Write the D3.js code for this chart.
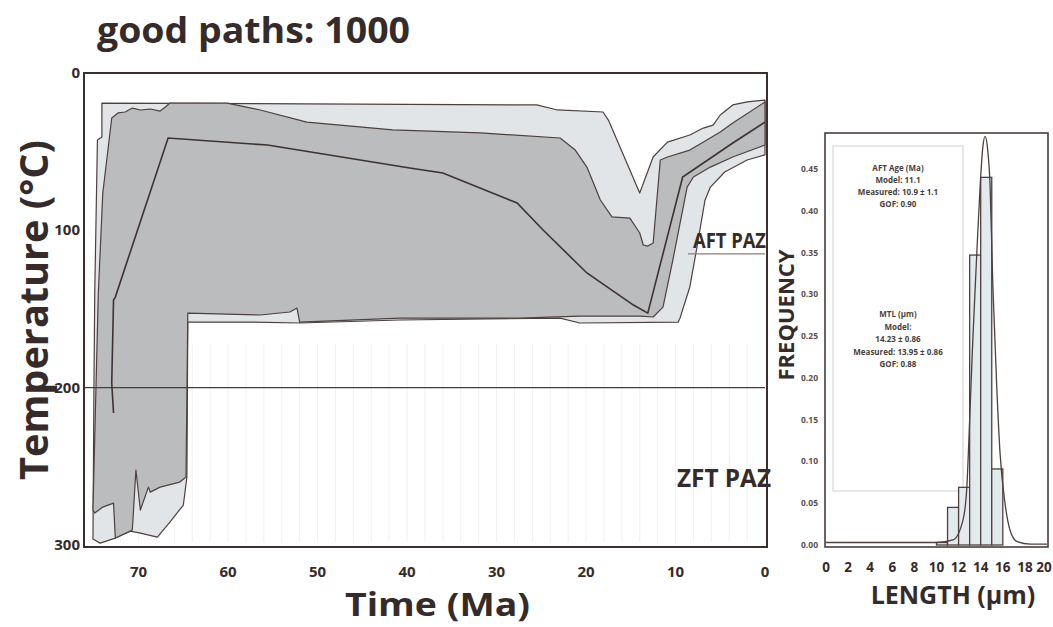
<!DOCTYPE html>
<html>
<head>
<meta charset="utf-8">
<script src="https://cdn.jsdelivr.net/npm/d3@7"></script>
<style>
  body { margin: 0; background: #fff; }
  text { font-family: "Open Sans", "DejaVu Sans", sans-serif; fill: #352b2a; }
</style>
</head>
<body>
<div id="chart"></div>
<script>
// thermal history (time in Ma, temperature in deg C)
var timeTicks = [70, 60, 50, 40, 30, 20, 10, 0];
var tempTicks = [0, 100, 200, 300];

var acceptEnvelope = [
  [74.1, 19.1], [25.5, 20.3], [23.2, 23.5], [18.1, 24.8], [17.5, 29.9], [14.0, 76.3],
  [12.5, 53.4], [10.9, 43.9], [8.4, 39.4], [6.9, 35.0], [5.8, 33.1], [5.0, 26.7],
  [3.6, 20.3], [2.0, 18.4], [0, 17.2], [0, 52.0], [2.0, 55.3], [4.5, 62.9],
  [6.1, 72.5], [6.7, 80.7], [7.6, 110.6], [8.4, 136.0], [9.5, 155.8], [9.7, 158.3],
  [20.7, 158.9], [22.9, 155.8], [40.8, 157.0], [52.0, 158.9], [57.5, 158.3], [64.5, 158.3],
  [64.6, 256.8], [65.0, 274.6], [66.5, 285.4], [67.9, 295.0], [69.8, 292.4], [70.9, 291.2],
  [72.6, 295.6], [74.3, 298.8], [75.1, 296.2], [75.0, 207.9], [74.9, 139.9], [74.6, 42.6],
  [74.1, 40.7]
];

var goodEnvelope = [
  [73.0, 28.6], [72.3, 25.4], [71.5, 24.8], [70.7, 22.3], [69.8, 23.5], [68.7, 22.9],
  [67.6, 24.2], [67.0, 21.6], [66.5, 19.1], [60.1, 19.1], [56.4, 23.5], [51.2, 31.2],
  [41.6, 36.2], [31.8, 38.1], [22.9, 41.3], [21.2, 49.0], [19.9, 59.8], [18.4, 80.7],
  [17.1, 91.5], [15.1, 92.2], [14.0, 101.7], [13.6, 109.3], [13.1, 110.0], [12.5, 108.1],
  [11.7, 55.3], [10.9, 53.4], [8.4, 49.0], [6.5, 42.6], [5.0, 37.5], [3.6, 31.8],
  [0, 18.4], [0, 45.8], [3.6, 53.4], [6.1, 59.8], [8.0, 66.1], [8.7, 72.5],
  [10.3, 118.9], [11.4, 148.8], [12.5, 155.1], [14.0, 154.5], [20.7, 154.5], [27.4, 155.8],
  [40.8, 155.8], [52.0, 158.3], [52.3, 149.4], [53.1, 151.9], [56.4, 153.8], [64.5, 152.6],
  [64.7, 256.8], [65.4, 260.0], [67.6, 263.2], [68.7, 266.4], [68.9, 263.2], [69.8, 277.8],
  [70.3, 252.4], [70.7, 290.5], [72.6, 295.6], [72.8, 273.4], [74.0, 275.9], [74.9, 279.7],
  [75.1, 277.8], [74.5, 139.9], [74.0, 76.3]
];

var bestPath = [
  [72.8, 216.1], [73.0, 197.1], [72.8, 144.3], [72.6, 142.4], [66.7, 41.3], [55.6, 45.8],
  [39.7, 60.4], [36.0, 63.6], [27.7, 82.6], [24.8, 99.8], [19.9, 127.1], [14.7, 147.5],
  [13.1, 152.6], [9.2, 66.1], [3.6, 44.5], [0, 31.2]
];

var zftLineTemp = 200;
var aftLine = [[8.6, 115], [0, 115]];

// track length histogram
var binStart = [10, 11, 12, 13, 14, 15];
var binFreq = [0.003, 0.045, 0.069, 0.347, 0.44, 0.091];
var lengthTicks = [0, 2, 4, 6, 8, 10, 12, 14, 16, 18, 20];
var freqTicks = [0, 0.05, 0.10, 0.15, 0.20, 0.25, 0.30, 0.35, 0.40, 0.45];
var modelCurve = [
  [0, 0.003], [5, 0.003], [10, 0.003], [11.5, 0.006], [12.4, 0.03], [12.75, 0.07],
  [13.0, 0.15], [13.3, 0.25], [13.65, 0.35], [13.95, 0.43], [14.2, 0.477], [14.4, 0.489],
  [14.6, 0.477], [14.85, 0.43], [15.1, 0.31], [15.45, 0.19], [15.75, 0.11], [16.2, 0.05],
  [16.65, 0.018], [17.3, 0.004], [18.5, 0.001], [20, 0.001]
];
var aftLines = ["AFT Age (Ma)", "Model: 11.1", "Measured: 10.9 \u00b1 1.1", "GOF: 0.90"];
var mtlLines = ["MTL (\u00b5m)", "Model:", "14.23 \u00b1 0.86", "Measured: 13.95 \u00b1 0.86", "GOF: 0.88"];

var W = 1053, H = 627;
var lineColor = "#4e403e";

var svg = d3.select("#chart").append("svg")
    .attr("width", W)
    .attr("height", H);

// ---------- left panel ----------
var x = d3.scaleLinear().domain([76.1, 0]).range([84, 765]);
var y = d3.scaleLinear().domain([0, 300]).range([73, 545]);

var left = svg.append("g").attr("class", "history");

// faint ghost gridlines from the original figure
left.selectAll("line.ghost")
    .data(d3.range(2, 76, 2))
    .enter().append("line")
    .attr("class", "ghost")
    .attr("x1", function (d) { return x(d); })
    .attr("x2", function (d) { return x(d); })
    .attr("y1", y(172))
    .attr("y2", y(298))
    .style("stroke", "#f0f0f0")
    .style("stroke-width", 1);

var area = d3.line()
    .x(function (d) { return x(d[0]); })
    .y(function (d) { return y(d[1]); });

left.append("path")
    .datum(acceptEnvelope)
    .attr("d", function (d) { return area(d) + "Z"; })
    .style("fill", "#e2e5e8")
    .style("stroke", lineColor)
    .style("stroke-width", 1.2)
    .style("stroke-linejoin", "round");

left.append("path")
    .datum(goodEnvelope)
    .attr("d", function (d) { return area(d) + "Z"; })
    .style("fill", "#babcbe")
    .style("stroke", lineColor)
    .style("stroke-width", 1.2)
    .style("stroke-linejoin", "round");

left.append("path")
    .datum(bestPath)
    .attr("d", area)
    .style("fill", "none")
    .style("stroke", "#3e3230")
    .style("stroke-width", 1.6);

// partial annealing zone markers
left.append("line")
    .attr("x1", x(76.1)).attr("x2", x(0))
    .attr("y1", y(zftLineTemp)).attr("y2", y(zftLineTemp))
    .style("stroke", "#4a3c3a")
    .style("stroke-width", 1.3);

left.append("line")
    .attr("x1", x(aftLine[0][0])).attr("x2", x(aftLine[1][0]))
    .attr("y1", y(aftLine[0][1])).attr("y2", y(aftLine[1][1]))
    .style("stroke", "#8a7e7c")
    .style("stroke-width", 1.2);

left.append("text")
    .attr("x", 693).attr("y", 248)
    .attr("textLength", 73)
    .attr("lengthAdjust", "spacingAndGlyphs")
    .style("font-size", "21px").style("font-weight", 700)
    .text("AFT PAZ");

left.append("text")
    .attr("x", 677).attr("y", 487)
    .attr("textLength", 94)
    .attr("lengthAdjust", "spacingAndGlyphs")
    .style("font-size", "25px").style("font-weight", 700)
    .text("ZFT PAZ");

// frame
left.append("rect")
    .attr("x", 84).attr("y", 73)
    .attr("width", 767 - 84).attr("height", 547 - 73)
    .style("fill", "none")
    .style("stroke", "#3a2f2d")
    .style("stroke-width", 2);

left.selectAll("text.xtick")
    .data(timeTicks)
    .enter().append("text")
    .attr("class", "xtick")
    .attr("x", function (d) { return x(d); })
    .attr("y", 577)
    .attr("text-anchor", "middle")
    .style("font-size", "15px").style("font-weight", 700)
    .text(function (d) { return d; });

left.selectAll("text.ytick")
    .data(tempTicks)
    .enter().append("text")
    .attr("class", "ytick")
    .attr("x", 80)
    .attr("y", function (d) { return y(d) + 5; })
    .attr("text-anchor", "end")
    .style("font-size", "15px").style("font-weight", 700)
    .text(function (d) { return d; });

svg.append("text")
    .attr("x", 97).attr("y", 43)
    .attr("textLength", 313)
    .attr("lengthAdjust", "spacingAndGlyphs")
    .style("font-size", "36px").style("font-weight", 700)
    .text("good paths: 1000");

svg.append("text")
    .attr("x", 345).attr("y", 616)
    .attr("textLength", 185)
    .attr("lengthAdjust", "spacingAndGlyphs")
    .style("font-size", "32px").style("font-weight", 700)
    .text("Time (Ma)");

svg.append("text")
    .attr("transform", "translate(48,310) rotate(-90)")
    .attr("text-anchor", "middle")
    .attr("textLength", 340)
    .attr("lengthAdjust", "spacingAndGlyphs")
    .style("font-size", "40px").style("font-weight", 700)
    .text("Temperature (\u00b0C)");

// ---------- right panel ----------
var hx = d3.scaleLinear().domain([0, 20]).range([826, 1047]);
var hy = d3.scaleLinear().domain([0, 0.45]).range([545, 169]);

var right = svg.append("g").attr("class", "lengths");

right.append("rect")
    .attr("x", 833).attr("y", 146)
    .attr("width", 963 - 833).attr("height", 491 - 146)
    .style("fill", "#fff")
    .style("stroke", "#cfcfcf")
    .style("stroke-width", 1);

right.selectAll("text.aft")
    .data(aftLines)
    .enter().append("text")
    .attr("class", "aft")
    .attr("x", 898)
    .attr("y", function (d, i) { return 171 + i * 12; })
    .attr("text-anchor", "middle")
    .style("font-size", "8px").style("font-weight", 700)
    .style("fill", "#4a3f3d")
    .text(function (d) { return d; });

right.selectAll("text.mtl")
    .data(mtlLines)
    .enter().append("text")
    .attr("class", "mtl")
    .attr("x", 898)
    .attr("y", function (d, i) { return 317 + i * 12.5; })
    .attr("text-anchor", "middle")
    .style("font-size", "8px").style("font-weight", 700)
    .style("fill", "#4a3f3d")
    .text(function (d) { return d; });

right.selectAll("rect.bin")
    .data(binStart)
    .enter().append("rect")
    .attr("class", "bin")
    .attr("x", function (d) { return hx(d); })
    .attr("y", function (d, i) { return hy(binFreq[i]); })
    .attr("width", function (d) { return hx(d + 1) - hx(d); })
    .attr("height", function (d, i) { return hy(0) - hy(binFreq[i]); })
    .style("fill", "#e3eaee")
    .style("stroke", "#4e403e")
    .style("stroke-width", 1.3);

right.append("path")
    .datum(modelCurve)
    .attr("d", d3.line()
        .curve(d3.curveMonotoneX)
        .x(function (d) { return hx(d[0]); })
        .y(function (d) { return hy(d[1]); }))
    .style("fill", "none")
    .style("stroke", "#4e403e")
    .style("stroke-width", 1.3);

right.append("rect")
    .attr("x", 825).attr("y", 133)
    .attr("width", 1048 - 825).attr("height", 547 - 133)
    .style("fill", "none")
    .style("stroke", "#4a3c3a")
    .style("stroke-width", 1.6);

right.selectAll("text.ftick")
    .data(freqTicks)
    .enter().append("text")
    .attr("class", "ftick")
    .attr("x", 818)
    .attr("y", function (d) { return hy(d) + 3; })
    .attr("text-anchor", "end")
    .style("font-size", "8.5px").style("font-weight", 700)
    .style("fill", "#5a504e")
    .text(function (d) { return d3.format(".2f")(d); });

right.selectAll("text.ltick")
    .data(lengthTicks)
    .enter().append("text")
    .attr("class", "ltick")
    .attr("x", function (d) { return d === 20 ? hx(d) - 3 : hx(d); })
    .attr("y", 572)
    .attr("text-anchor", "middle")
    .style("font-size", "13.5px").style("font-weight", 700)
    .text(function (d) { return d; });

svg.append("text")
    .attr("x", 953).attr("y", 604)
    .attr("text-anchor", "middle")
    .style("font-size", "25px").style("font-weight", 700)
    .text("LENGTH (\u00b5m)");

svg.append("text")
    .attr("transform", "translate(794,315) rotate(-90)")
    .attr("text-anchor", "middle")
    .style("font-size", "22px").style("font-weight", 700)
    .text("FREQUENCY");
</script>
</body>
</html>
